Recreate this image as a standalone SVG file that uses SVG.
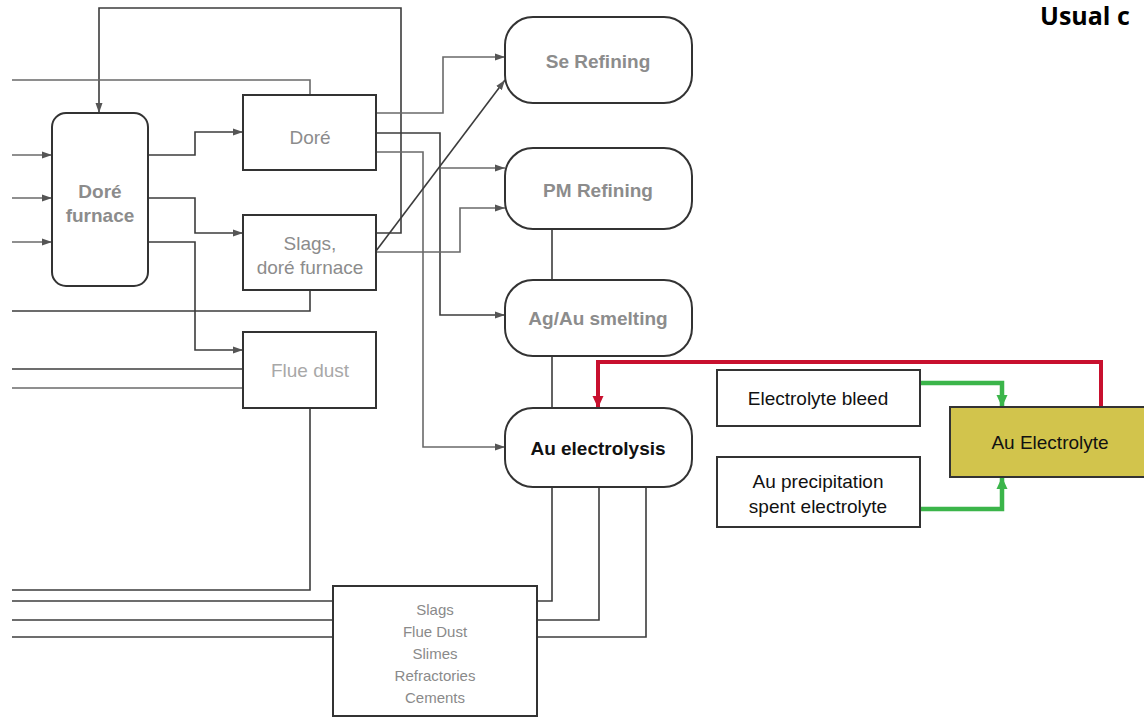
<svg xmlns="http://www.w3.org/2000/svg" width="1144" height="718" viewBox="0 0 1144 718">
  <style>
    .box { fill: #ffffff; stroke: #333333; stroke-width: 2; }
    .line { fill: none; stroke: #3c3c3c; stroke-width: 1.6; }
    .lt { fill: none; stroke: #6a6a6a; stroke-width: 1.6; }
    .red { fill: none; stroke: #c8102e; stroke-width: 4; }
    .green { fill: none; stroke: #3bb54a; stroke-width: 4.5; }
    .lbl { font-family: "Liberation Sans", Arial, sans-serif; font-size: 19px; text-anchor: middle; }
    .gray { fill: #8c8c8c; }
    .pale { fill: #a8a8a8; }
    .bold { font-weight: bold; }
    .small { font-family: "Liberation Sans", Arial, sans-serif; font-size: 15px; fill: #8a8a8a; text-anchor: middle; }
    .dark { fill: #111111; }
  </style>
  <defs>
    <marker id="arr" markerUnits="userSpaceOnUse" markerWidth="10" markerHeight="8" refX="10" refY="4" orient="auto">
      <path d="M0,0.5 L10,4 L0,7.5 z" fill="#555555"/>
    </marker>
    <marker id="arrRed" markerUnits="userSpaceOnUse" markerWidth="12" markerHeight="12" refX="12" refY="6" orient="auto">
      <path d="M0,0.5 L12,6 L0,11.5 z" fill="#c8102e"/>
    </marker>
    <marker id="arrGreen" markerUnits="userSpaceOnUse" markerWidth="12" markerHeight="12" refX="12" refY="6" orient="auto">
      <path d="M0,0.5 L12,6 L0,11.5 z" fill="#3bb54a"/>
    </marker>
  </defs>

  <text x="1040" y="25" font-family="'Open Sans', 'Liberation Sans', sans-serif" font-weight="bold" font-size="25" fill="#000000">Usual c</text>

  <g id="connectors">
    <!-- recycle of furnace slags back to the furnace -->
    <path class="line" d="M376,233 H401 V8 H99 V113" marker-end="url(#arr)"/>
    <path class="lt" d="M12,80 H310 V95"/>
    <!-- furnace feeds -->
    <path class="lt" d="M12,155 H52" marker-end="url(#arr)"/>
    <path class="lt" d="M12,198 H52" marker-end="url(#arr)"/>
    <path class="lt" d="M12,242 H52" marker-end="url(#arr)"/>
    <!-- furnace products -->
    <path class="line" d="M148,155 H195 V132 H243" marker-end="url(#arr)"/>
    <path class="line" d="M148,198 H195 V233 H243" marker-end="url(#arr)"/>
    <path class="line" d="M148,242 H195 V350 H243" marker-end="url(#arr)"/>
    <path class="line" d="M12,311 H310 V290"/>
    <path class="line" d="M12,369 H243"/>
    <path class="lt" d="M12,388 H243"/>
    <path class="line" d="M310,408 V590 H12"/>
    <!-- residues box -->
    <path class="line" d="M12,601 H333"/>
    <path class="line" d="M12,620 H333"/>
    <path class="line" d="M12,637 H333"/>
    <path class="line" d="M537,601 H552 V487"/>
    <path class="line" d="M537,620 H599 V487"/>
    <path class="line" d="M537,637 H646 V487"/>
    <!-- doré outputs -->
    <path class="lt" d="M376,113 H443 V57 H505" marker-end="url(#arr)"/>
    <path class="line" d="M376,133 H440 V315 H505" marker-end="url(#arr)"/>
    <path class="lt" d="M440,168 H505" marker-end="url(#arr)"/>
    <path class="lt" d="M376,152 H423 V447 H505" marker-end="url(#arr)"/>
    <!-- slags outputs -->
    <path class="lt" d="M376,252 H460 V208 H505" marker-end="url(#arr)"/>
    <path class="line" d="M376,251 L505,80" marker-end="url(#arr)"/>
    <!-- refining chain -->
    <path class="line" d="M552,229 V280"/>
    <path class="line" d="M552,356 V408"/>
    <!-- electrolyte circuit -->
    <path class="red" d="M1101,407 V362 H598 V408" marker-end="url(#arrRed)"/>
    <path class="green" d="M920,383 H1002 V407" marker-end="url(#arrGreen)"/>
    <path class="green" d="M920,509 H1002 V477" marker-end="url(#arrGreen)"/>
  </g>

  <g id="dore-furnace">
    <rect class="box" x="52" y="113" width="96" height="173" rx="14"/>
    <text class="lbl gray bold" x="100" y="198">Doré</text>
    <text class="lbl gray bold" x="100" y="222">furnace</text>
  </g>
  <g id="dore">
    <rect class="box" x="243" y="95" width="133" height="75"/>
    <text class="lbl gray" x="310" y="144">Doré</text>
  </g>
  <g id="slags-dore-furnace">
    <rect class="box" x="243" y="215" width="133" height="75"/>
    <text class="lbl gray" x="310" y="250">Slags,</text>
    <text class="lbl gray" x="310" y="274">doré furnace</text>
  </g>
  <g id="flue-dust">
    <rect class="box" x="243" y="332" width="133" height="76"/>
    <text class="lbl pale" x="310" y="377">Flue dust</text>
  </g>
  <g id="se-refining">
    <rect class="box" x="505" y="17" width="187" height="86" rx="28"/>
    <text class="lbl gray bold" x="598" y="68">Se Refining</text>
  </g>
  <g id="pm-refining">
    <rect class="box" x="505" y="148" width="187" height="81" rx="28"/>
    <text class="lbl gray bold" x="598" y="197">PM Refining</text>
  </g>
  <g id="ag-au-smelting">
    <rect class="box" x="505" y="280" width="187" height="76" rx="28"/>
    <text class="lbl gray bold" x="598" y="325">Ag/Au smelting</text>
  </g>
  <g id="au-electrolysis">
    <rect class="box" x="505" y="408" width="187" height="79" rx="28"/>
    <text class="lbl dark bold" x="598" y="455">Au electrolysis</text>
  </g>
  <g id="residues">
    <rect class="box" x="333" y="586" width="204" height="130"/>
    <text class="small" x="435" y="615">Slags</text>
    <text class="small" x="435" y="637">Flue Dust</text>
    <text class="small" x="435" y="659">Slimes</text>
    <text class="small" x="435" y="681">Refractories</text>
    <text class="small" x="435" y="703">Cements</text>
  </g>
  <g id="electrolyte-bleed">
    <rect class="box" x="717" y="370" width="203" height="56"/>
    <text class="lbl dark" x="818" y="405">Electrolyte bleed</text>
  </g>
  <g id="au-precipitation">
    <rect class="box" x="717" y="457" width="203" height="70"/>
    <text class="lbl dark" x="818" y="488">Au precipitation</text>
    <text class="lbl dark" x="818" y="513">spent electrolyte</text>
  </g>
  <g id="au-electrolyte">
    <rect x="950" y="407" width="200" height="70" fill="#d2c44c" stroke="#333333" stroke-width="2"/>
    <text class="lbl dark" x="1050" y="449">Au Electrolyte</text>
  </g>
</svg>
